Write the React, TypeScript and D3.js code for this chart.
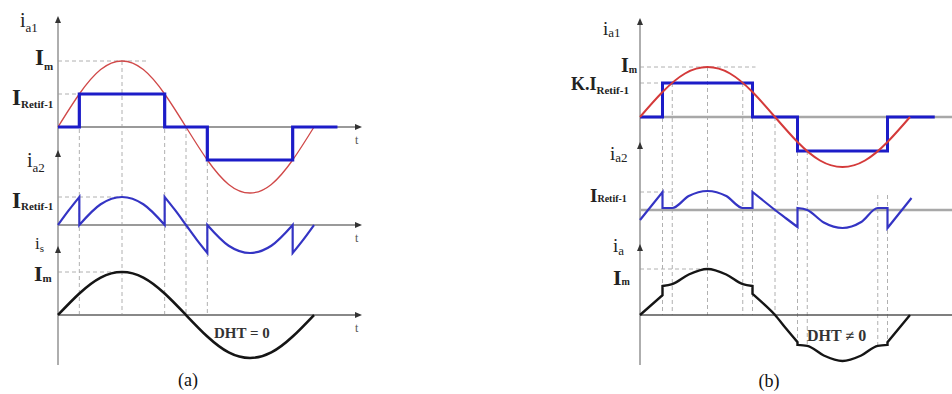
import React from 'react';
import * as d3 from 'd3';

type Pt = [number, number];

// ---- panel (a): 120° rectangular rectifier current, DHT = 0 ----
const SINE_A: Pt[] = [[0, 0], [30, 0.5], [60, 0.87], [90, 1], [120, 0.87], [150, 0.5], [180, 0], [210, -0.5], [240, -0.87], [270, -1], [300, -0.87], [330, -0.5], [360, 0]];
const SQUARE_A: Pt[] = [[0, 0], [30, 0], [30, 0.5], [150, 0.5], [150, 0], [210, 0], [210, -0.5], [330, -0.5], [330, 0], [393, 0]];
const IA2_A: Pt[] = [[0, 0], [15, 0.26], [30, 0.5], [30, 0], [60, 0.37], [90, 0.5], [120, 0.37], [150, 0], [150, 0.5], [165, 0.26], [180, 0], [195, -0.26], [210, -0.5], [210, 0], [240, -0.37], [270, -0.5], [300, -0.37], [330, 0], [330, -0.5], [345, -0.26], [360, 0]];
const IS_A: Pt[] = [[0, 0], [30, 0.5], [60, 0.87], [90, 1], [120, 0.87], [150, 0.5], [180, 0], [210, -0.5], [240, -0.87], [270, -1], [300, -0.87], [330, -0.5], [360, 0]];
const GUIDE_A_DEG = [30, 90, 150, 180, 210];
const GUIDE_A_FROM = [0.5, 1, 0.5, 0, 0];

// ---- panel (b): K-scaled rectifier current, DHT != 0 ----
const SINE_B: Pt[] = [[0, 0], [30, 0.5], [60, 0.87], [90, 1], [120, 0.87], [150, 0.5], [180, 0], [210, -0.5], [240, -0.87], [270, -1], [300, -0.87], [330, -0.5], [360, 0]];
const SQUARE_B: Pt[] = [[0, 0], [30, 0], [30, 0.68], [150, 0.68], [150, 0], [210, 0], [210, -0.68], [330, -0.68], [330, 0], [393, 0]];
const IA2_B: Pt[] = [[0, -0.2], [30, 0.36], [30, 0.04], [43, 0.04], [65, 0.28], [90, 0.38], [115, 0.28], [137, 0.04], [150, 0.04], [150, 0.36], [165, 0.18], [180, 0], [195, -0.17], [210, -0.34], [210, 0.04], [223, 0], [245, -0.25], [270, -0.36], [295, -0.24], [317, 0.04], [330, 0.04], [330, -0.36], [362, 0.24]];
const IS_B: Pt[] = [[0, 0], [30, 0.43], [30, 0.63], [43, 0.67], [65, 0.88], [90, 1], [115, 0.88], [137, 0.67], [150, 0.63], [150, 0.46], [165, 0.24], [180, 0], [195, -0.3], [210, -0.59], [210, -0.65], [223, -0.67], [245, -0.88], [270, -1], [295, -0.88], [317, -0.67], [330, -0.65], [330, -0.59], [360, 0]];
const GUIDE_B_DEG = [30, 43, 90, 137, 150, 180, 210, 223, 317, 330];
const GUIDE_B_ROW = ['top', 'top', 'top', 'top', 'top', 'top', 'top', 'top', 'mid', 'mid'];
const GUIDE_B_FROM = [0.68, 0.68, 1, 0.68, 0.68, 0, 0, -0.68, 0.3, 0.3];
const GUIDE_B_TO = [0, 0, 0, 0, 0, 0, -0.65, -0.67, -0.67, -0.65];

const SERIF = '"Liberation Serif", "DejaVu Serif", serif';
const AXIS = '#9a9a9a';
const DASH = '#b0b0b0';

// split at vertical jumps (repeated angle) so each run is a smooth curve
function wavePath(pts: Pt[], x: d3.ScaleLinear<number, number>, y: d3.ScaleLinear<number, number>, curve: d3.CurveFactory) {
  const runs: Pt[][] = [];
  let cur: Pt[] = [];
  pts.forEach((p, i) => {
    if (i > 0 && p[0] === pts[i - 1][0]) {
      runs.push(cur);
      cur = [];
    }
    cur.push(p);
  });
  runs.push(cur);
  const line = d3.line<Pt>().x((d) => x(d[0])).y((d) => y(d[1])).curve(curve);
  return runs.map((r, i) => {
    const s = line(r) || '';
    return i === 0 ? s : 'L' + s.slice(1);
  }).join('');
}

const Label = ({ x, y, main, sub, size = 20, subSize = 13, bold = false, dy = 5 }: any) => (
  <text x={x} y={y} fontFamily={SERIF} fontSize={size} fontWeight={bold ? 'bold' : 'normal'} fill="#222">
    {main}
    <tspan dy={dy} fontSize={subSize}>{sub}</tspan>
  </text>
);

const UpArrow = ({ x, y }: any) => <path d={`M${x},${y - 4}L${x - 3},${y + 3}L${x + 3},${y + 3}Z`} fill="#333" />;
const RightArrow = ({ x, y }: any) => <path d={`M${x + 4},${y}L${x - 3},${y - 3}L${x - 3},${y + 3}Z`} fill="#333" />;

export default function App() {
  // panel (a) scales
  const xa = d3.scaleLinear().domain([0, 360]).range([58, 314]);
  const ya = {
    top: d3.scaleLinear().domain([-1, 1]).range([193, 61]),
    mid: d3.scaleLinear().domain([-1, 1]).range([281, 169]),
    bot: d3.scaleLinear().domain([-1, 1]).range([358, 272]),
  };
  // panel (b) scales
  const xb = d3.scaleLinear().domain([0, 360]).range([640, 910]);
  const yb: any = {
    top: d3.scaleLinear().domain([-1, 1]).range([167, 67]),
    mid: d3.scaleLinear().domain([-1, 1]).range([260, 160]),
    bot: d3.scaleLinear().domain([-1, 1]).range([361, 269]),
  };
  const smooth = d3.curveMonotoneX;
  const lin = d3.curveLinear;

  return (
    <svg width={952} height={394} style={{ position: 'absolute', left: 0, top: 0, background: '#fff' }}>
      <rect width={952} height={394} fill="#fff" />

      {/* ---------- (a) ---------- */}
      <g>
        {GUIDE_A_DEG.map((d, i) => (
          <line key={i} x1={xa(d)} x2={xa(d)} y1={ya.top(GUIDE_A_FROM[i])} y2={ya.bot(0)} stroke={DASH} strokeDasharray="4,3" />
        ))}
        <line x1={xa(0)} x2={xa(126)} y1={ya.top(1)} y2={ya.top(1)} stroke={DASH} strokeDasharray="4,3" />
        <line x1={xa(0)} x2={xa(30)} y1={ya.top(0.5)} y2={ya.top(0.5)} stroke={DASH} strokeDasharray="4,3" />
        <line x1={xa(0)} x2={xa(90)} y1={ya.mid(0.5)} y2={ya.mid(0.5)} stroke={DASH} strokeDasharray="4,3" />
        <line x1={xa(0)} x2={xa(90)} y1={ya.bot(1)} y2={ya.bot(1)} stroke={DASH} strokeDasharray="4,3" />

        <line x1={58} x2={58} y1={20} y2={365} stroke={AXIS} strokeWidth={1.6} />
        {[ya.top(0), ya.mid(0), ya.bot(0)].map((y, i) => (
          <g key={i}>
            <line x1={58} x2={358} y1={y} y2={y} stroke={i === 2 ? '#888' : AXIS} strokeWidth={1.8} />
            <RightArrow x={358} y={y} />
            <text x={355} y={y + 17} fontFamily={SERIF} fontSize={12} fill="#555">t</text>
          </g>
        ))}
        <UpArrow x={58} y={20} />
        <UpArrow x={58} y={154} />
        <UpArrow x={58} y={250} />

        <path d={wavePath(SINE_A, xa, ya.top, d3.curveNatural)} fill="none" stroke="#d04848" strokeWidth={1.3} />
        <path d={wavePath(SQUARE_A, xa, ya.top, lin)} fill="none" stroke="#1c1cc8" strokeWidth={3.2} />
        <path d={wavePath(IA2_A, xa, ya.mid, smooth)} fill="none" stroke="#3434c4" strokeWidth={2.2} />
        <path d={wavePath(IS_A, xa, ya.bot, d3.curveNatural)} fill="none" stroke="#151515" strokeWidth={2.6} />

        <Label x={20} y={27} main="i" sub="a1" size={20} subSize={13} />
        <Label x={35} y={65} main="I" sub="m" size={23} subSize={11} bold dy={5} />
        <Label x={12} y={105} main="I" sub="Retif-1" size={23} subSize={11} bold dy={3} />
        <Label x={27} y={167} main="i" sub="a2" size={20} subSize={13} />
        <Label x={12} y={208} main="I" sub="Retif-1" size={23} subSize={11} bold dy={2} />
        <Label x={35} y={249} main="i" sub="s" size={17} subSize={11} dy={3} />
        <Label x={34} y={281} main="I" sub="m" size={22} subSize={11} bold dy={1} />
        <text x={214} y={338} fontFamily={SERIF} fontSize={15} fontWeight="bold" fill="#333">DHT = 0</text>
        <text x={188} y={386} fontFamily={SERIF} fontSize={18} textAnchor="middle" fill="#111">(a)</text>
      </g>

      {/* ---------- (b) ---------- */}
      <g>
        {GUIDE_B_DEG.map((d, i) => (
          <line key={i} x1={xb(d)} x2={xb(d)} y1={yb[GUIDE_B_ROW[i]](GUIDE_B_FROM[i])} y2={yb.bot(GUIDE_B_TO[i])} stroke={DASH} strokeDasharray="4,3" />
        ))}
        <line x1={xb(0)} x2={xb(154)} y1={yb.top(1)} y2={yb.top(1)} stroke={DASH} strokeDasharray="4,3" />
        <line x1={xb(0)} x2={xb(30)} y1={yb.top(0.68)} y2={yb.top(0.68)} stroke={DASH} strokeDasharray="4,3" />
        <line x1={xb(0)} x2={xb(43)} y1={yb.mid(0.36)} y2={yb.mid(0.36)} stroke={DASH} strokeDasharray="4,3" />
        <line x1={xb(0)} x2={xb(90)} y1={yb.bot(1)} y2={yb.bot(1)} stroke={DASH} strokeDasharray="4,3" />

        <line x1={640} x2={640} y1={22} y2={365} stroke={AXIS} strokeWidth={1.6} />
        <line x1={640} x2={952} y1={yb.top(0)} y2={yb.top(0)} stroke="#a8a8a8" strokeWidth={2.4} />
        <line x1={640} x2={952} y1={yb.mid(0)} y2={yb.mid(0)} stroke="#a8a8a8" strokeWidth={2.4} />
        <line x1={640} x2={952} y1={yb.bot(0)} y2={yb.bot(0)} stroke="#555" strokeWidth={1.6} />
        <UpArrow x={640} y={22} />
        <UpArrow x={640} y={146} />
        <UpArrow x={640} y={248} />

        <path d={wavePath(SQUARE_B, xb, yb.top, lin)} fill="none" stroke="#1c1cc8" strokeWidth={3} />
        <path d={wavePath(SINE_B, xb, yb.top, d3.curveNatural)} fill="none" stroke="#d43a3a" strokeWidth={2} />
        <path d={wavePath(IA2_B, xb, yb.mid, smooth)} fill="none" stroke="#3434c4" strokeWidth={2.2} />
        <path d={wavePath(IS_B, xb, yb.bot, smooth)} fill="none" stroke="#151515" strokeWidth={2.4} />

        <Label x={603} y={35} main="i" sub="a1" size={19} subSize={13} dy={2} />
        <Label x={621} y={72} main="I" sub="m" size={20} subSize={10} bold dy={1} />
        <Label x={571} y={90} main="K.I" sub="Retif-1" size={18} subSize={11} bold dy={4} />
        <Label x={610} y={160} main="i" sub="a2" size={19} subSize={13} dy={2} />
        <Label x={590} y={202} main="I" sub="Retif-1" size={19} subSize={10} bold dy={0} />
        <Label x={613} y={252} main="i" sub="a" size={19} subSize={13} dy={3} />
        <Label x={613} y={285} main="I" sub="m" size={22} subSize={10} bold dy={0} />
        <text x={807} y={341} fontFamily={SERIF} fontSize={16} fontWeight="bold" fill="#333">DHT ≠ 0</text>
        <text x={769} y={387} fontFamily={SERIF} fontSize={18} textAnchor="middle" fill="#111">(b)</text>
      </g>
    </svg>
  );
}
